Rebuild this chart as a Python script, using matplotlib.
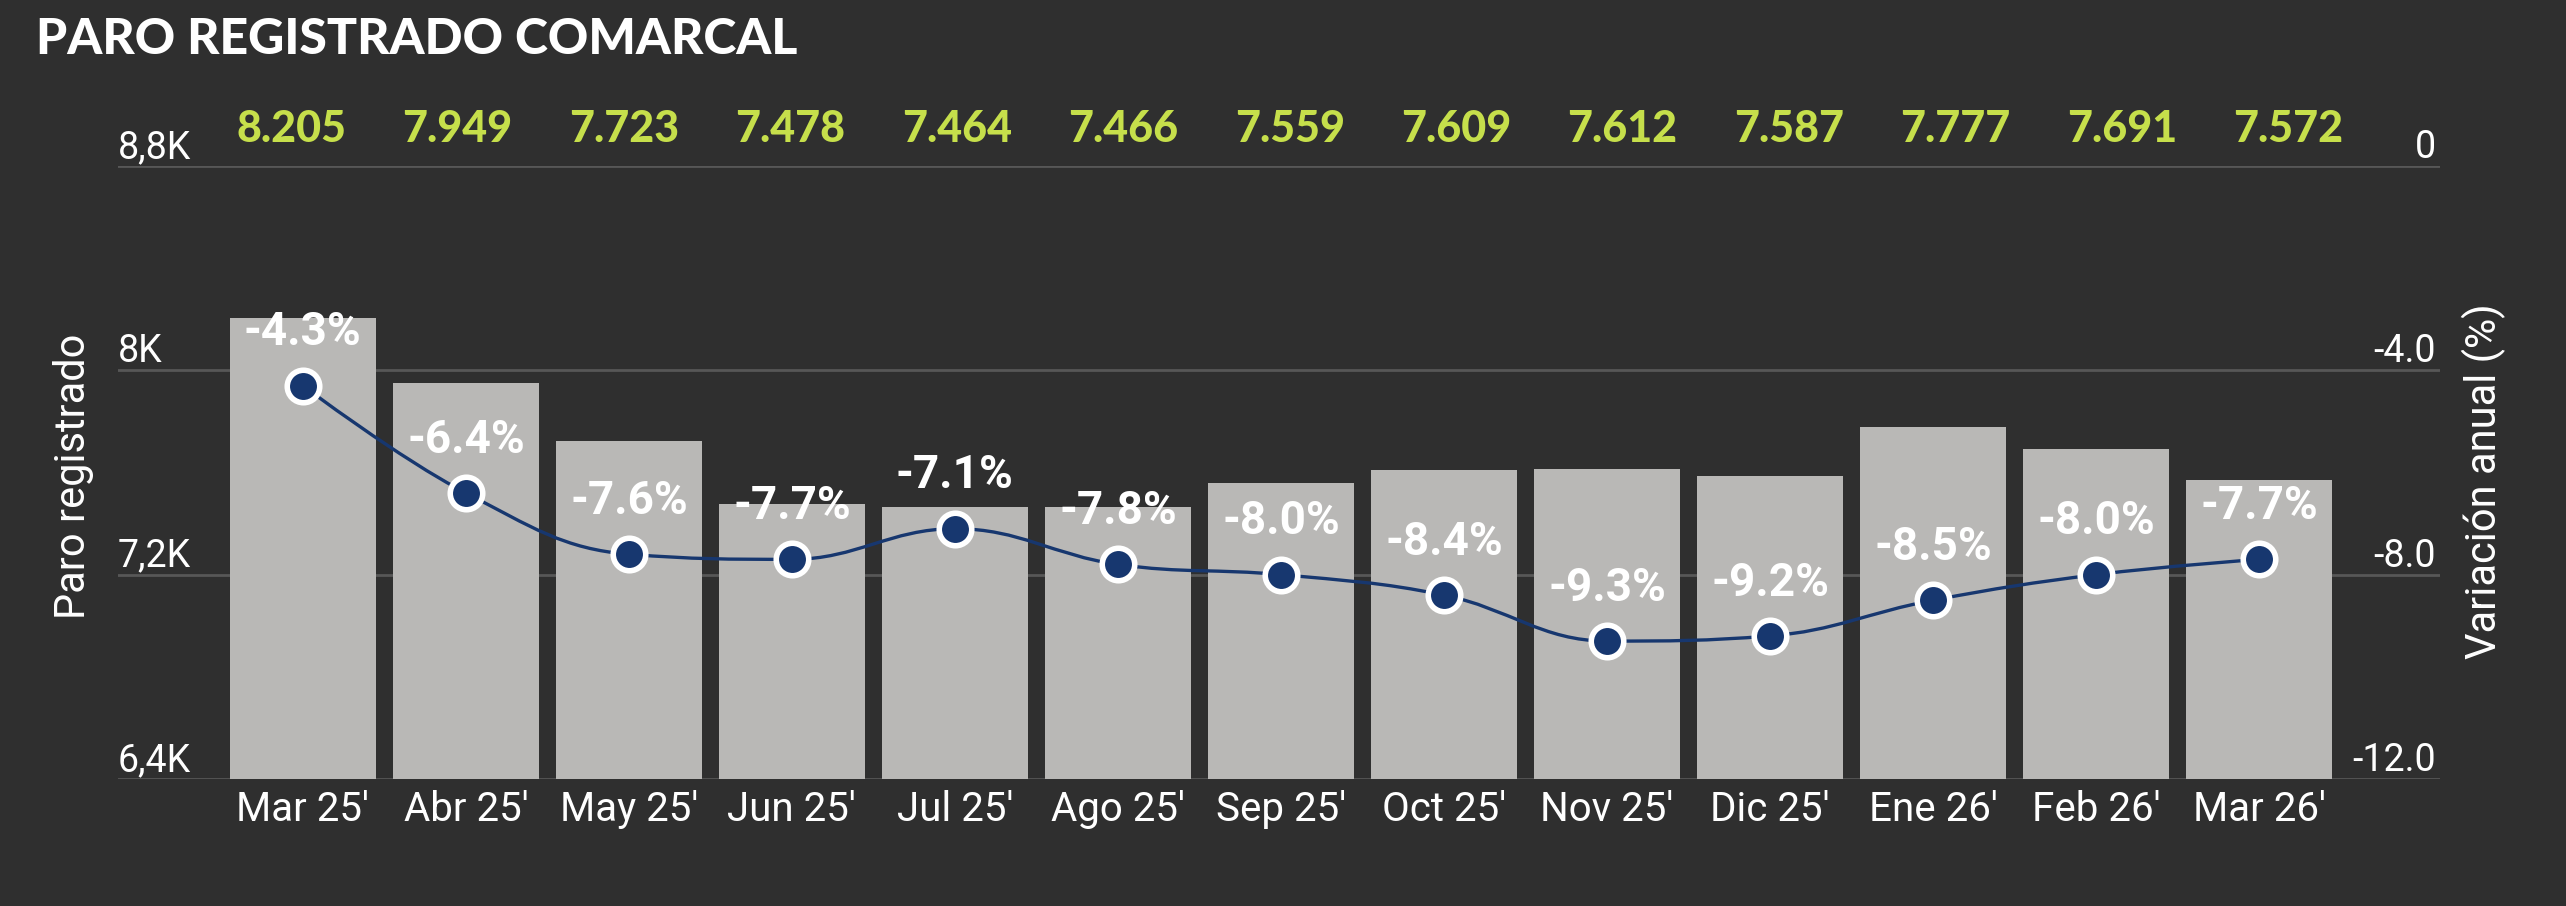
import matplotlib
matplotlib.use("Agg")
import matplotlib.pyplot as plt
from matplotlib.path import Path
from matplotlib.patches import PathPatch
import numpy as np

# ---- data ----
categories = ["Mar 25'", "Abr 25'", "May 25'", "Jun 25'", "Jul 25'", "Ago 25'",
              "Sep 25'", "Oct 25'", "Nov 25'", "Dic 25'", "Ene 26'", "Feb 26'", "Mar 26'"]
paro = [8205, 7949, 7723, 7478, 7464, 7466, 7559, 7609, 7612, 7587, 7777, 7691, 7572]
variacion = [-4.3, -6.4, -7.6, -7.7, -7.1, -7.8, -8.0, -8.4, -9.3, -9.2, -8.5, -8.0, -7.7]
left_ticks = [6400, 7200, 8000, 8800]
left_tick_labels = ["6,4K", "7,2K", "8K", "8,8K"]
right_ticks = [-12, -8, -4, 0]
right_tick_labels = ["-12.0", "-8.0", "-4.0", "0"]

BG = "#2f2f2f"
BAR = "#b9b8b6"
GRID = "#575757"
GREEN = "#c6df4b"
NAVY = "#17376f"
WHITE = "#ffffff"

W, H = 2566, 906
fig = plt.figure(figsize=(W / 100, H / 100), dpi=100, facecolor=BG)
ax = fig.add_axes([118 / W, 1 - 779 / H, (2440 - 118) / W, (779 - 166) / H])
ax.set_facecolor(BG)
x = np.arange(len(categories))

ax.bar(x, paro, width=0.898, color=BAR, zorder=2)
ax.set_ylim(6400, 8800)
ax.set_xlim(-1.134, 13.11)
ax.set_yticks(left_ticks)
ax.set_yticklabels(left_tick_labels)
ax.yaxis.grid(True, color=GRID, linewidth=2, zorder=0)
ax.set_axisbelow(True)
for s in ax.spines.values():
    s.set_visible(False)
ax.tick_params(axis="y", length=0, pad=0, labelsize=27, labelcolor=WHITE)
for lab in ax.get_yticklabels():
    lab.set_ha("left")
    lab.set_va("bottom")
    lab.set_fontfamily("Roboto")
ax.set_xticks(x)
ax.set_xticklabels(categories, fontfamily="Roboto", fontsize=29, color=WHITE)
ax.tick_params(axis="x", length=0, pad=8)

# green totals above plot (evenly spread row, slightly wider than the bars)
row_start, row_step = -0.072, 1.021
for i, v in enumerate(paro):
    ax.annotate(f"{v:,}".replace(",", "."), xy=(row_start + i * row_step, 1),
                xycoords=("data", "axes fraction"),
                xytext=(0, 17), textcoords="offset points", ha="center", va="baseline",
                fontsize=31, fontweight="black", fontfamily="Lato", color=GREEN)

# right axis
ax2 = ax.twinx()
ax2.set_ylim(-12, 0)
ax2.set_yticks(right_ticks)
ax2.set_yticklabels(right_tick_labels)
for s in ax2.spines.values():
    s.set_visible(False)
ax2.tick_params(axis="y", length=0, pad=-3, labelsize=27, labelcolor=WHITE)
for lab in ax2.get_yticklabels():
    lab.set_ha("right")
    lab.set_va("bottom")
    lab.set_fontfamily("Roboto")

# smooth spline (Highcharts-like)
xs = list(map(float, x))
ys = list(map(float, variacion))
n = len(xs)
sm, den = 1.5, 2.5
lc = [None] * n
rc = [None] * n
for i in range(n):
    if i == 0 or i == n - 1:
        lc[i] = (xs[i], ys[i]); rc[i] = (xs[i], ys[i]); continue
    lX = (sm * xs[i] + xs[i - 1]) / den
    lY = (sm * ys[i] + ys[i - 1]) / den
    rX = (sm * xs[i] + xs[i + 1]) / den
    rY = (sm * ys[i] + ys[i + 1]) / den
    corr = ((rY - lY) * (rX - xs[i])) / (rX - lX) + ys[i] - rY
    lY += corr; rY += corr
    if lY > ys[i - 1] and lY > ys[i]:
        lY = max(ys[i - 1], ys[i]); rY = 2 * ys[i] - lY
    elif lY < ys[i - 1] and lY < ys[i]:
        lY = min(ys[i - 1], ys[i]); rY = 2 * ys[i] - lY
    if rY > ys[i + 1] and rY > ys[i]:
        rY = max(ys[i + 1], ys[i]); lY = 2 * ys[i] - rY
    elif rY < ys[i + 1] and rY < ys[i]:
        rY = min(ys[i + 1], ys[i]); lY = 2 * ys[i] - rY
    lc[i] = (lX, lY); rc[i] = (rX, rY)
verts = [(xs[0], ys[0])]
codes = [Path.MOVETO]
for i in range(1, n):
    verts += [rc[i - 1], lc[i], (xs[i], ys[i])]
    codes += [Path.CURVE4] * 3
ax2.add_patch(PathPatch(Path(verts, codes), facecolor="none", edgecolor=NAVY, lw=2.4, zorder=3))
ax2.plot(x, variacion, linestyle="none", marker="o", markersize=23.4,
         markerfacecolor=NAVY, markeredgecolor=WHITE, markeredgewidth=4, zorder=4)
for i, v in enumerate(variacion):
    ax2.annotate(f"{v:.1f}%", xy=(i, v), xytext=(0, 29), textcoords="offset points",
                 ha="center", va="baseline", fontsize=33, fontweight="bold",
                 fontfamily="Roboto", color=WHITE, zorder=5)

# titles
fig.text(36 / W, 1 - 54 / H, "PARO REGISTRADO COMARCAL", fontsize=36, fontweight="black",
         fontfamily="Lato", color=WHITE, ha="left", va="baseline")
fig.text(74 / W, 1 - 476 / H, "Paro registrado", rotation=90, fontsize=30,
         fontfamily="Roboto", color=WHITE, ha="center", va="center")
fig.text(2484 / W, 1 - 481 / H, "Variación anual (%)", rotation=90, fontsize=30,
         fontfamily="Roboto", color=WHITE, ha="center", va="center")

fig.savefig("out.png", dpi=100, facecolor=BG)
